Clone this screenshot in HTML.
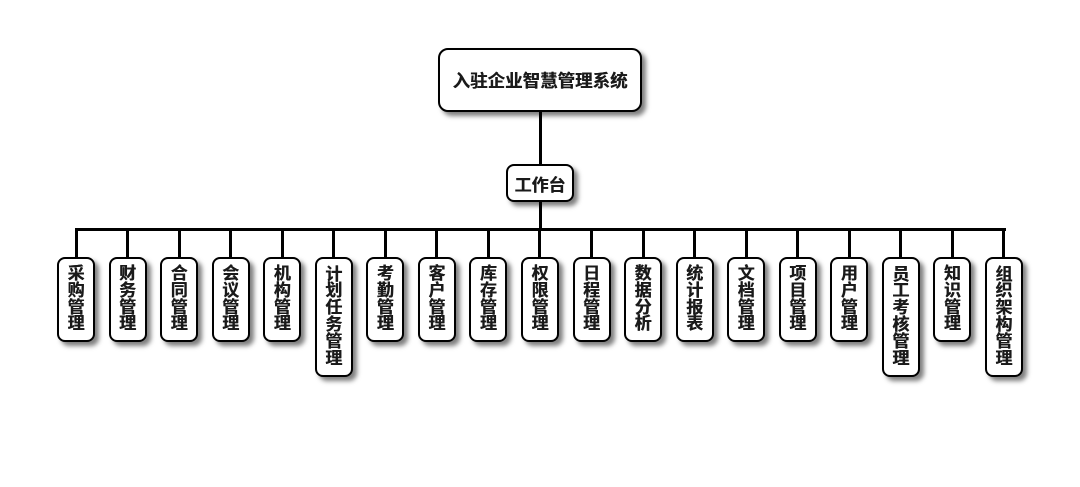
<!DOCTYPE html>
<html>
<head>
<meta charset="utf-8">
<style>
  html,body{margin:0;padding:0;background:#fff;}
  body{width:1080px;height:487px;position:relative;overflow:hidden;
    font-family:"Liberation Sans","Noto Sans CJK SC","WenQuanYi Zen Hei",sans-serif;}
  .ln{position:absolute;background:#000;}
  .box{position:absolute;box-sizing:border-box;border:2px solid #000;background:#fff;
    border-radius:8px;box-shadow:4px 4px 5px rgba(0,0,0,0.5);
    display:flex;align-items:center;justify-content:center;font-weight:bold;color:#1a1a1a;
    text-shadow:0.4px 0 0 #1a1a1a;}
  .v{flex-direction:column;font-size:17px;line-height:16.8px;width:38px;top:257px;}
  .v span{display:block;text-align:center;}
</style>
</head>
<body>
<!-- connectors -->
<div class="ln" style="left:538.5px;top:110px;width:3px;height:56px;"></div>
<div class="ln" style="left:538.5px;top:200px;width:3px;height:30px;"></div>
<div class="ln" style="left:74.5px;top:228px;width:931px;height:3px;"></div>

<div class="box" style="left:438px;top:48px;width:204px;height:64px;font-size:17.5px;border-radius:10px;">入驻企业智慧管理系统</div>
<div class="box" style="left:506px;top:164px;width:68px;height:38px;font-size:17px;">工作台</div>

<div id="kids"></div>
<script>
var names=["采购管理","财务管理","合同管理","会议管理","机构管理","计划任务管理","考勤管理","客户管理","库存管理","权限管理","日程管理","数据分析","统计报表","文档管理","项目管理","用户管理","员工考核管理","知识管理","组织架构管理"];
var html="";
for(var i=0;i<names.length;i++){
  var c=76+i*51.55;
  var n=names[i];
  var h=n.length>4?120:85;
  html+='<div class="ln" style="left:'+(c-1.5)+'px;top:229px;width:3px;height:30px;"></div>';
  var s="";
  for(var j=0;j<n.length;j++) s+='<span>'+n[j]+'</span>';
  html+='<div class="box v" style="left:'+(c-19)+'px;height:'+h+'px;">'+s+'</div>';
}
document.getElementById("kids").innerHTML=html;
</script>
</body>
</html>
